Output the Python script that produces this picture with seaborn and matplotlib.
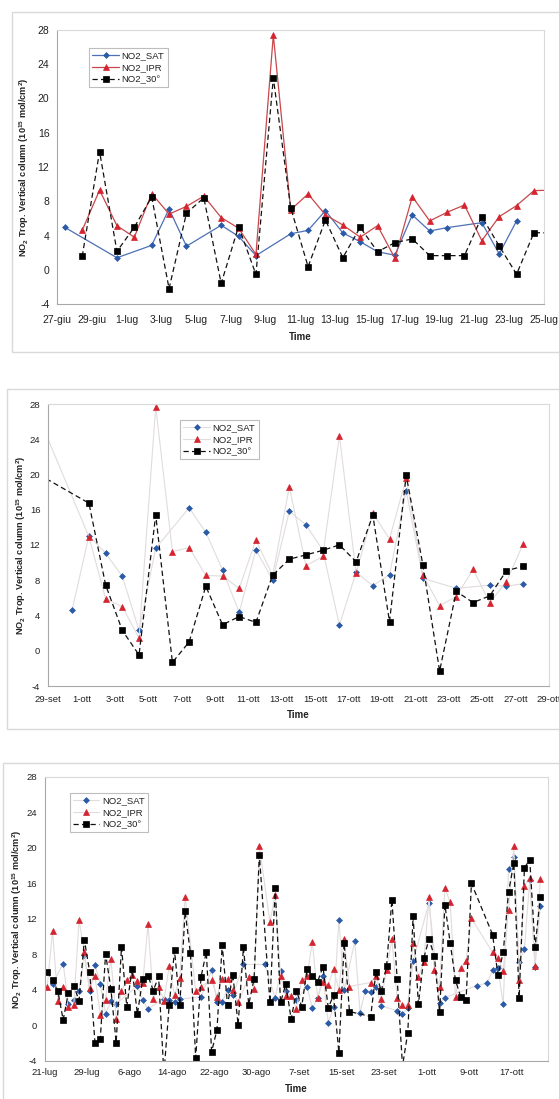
import numpy as np
import matplotlib
matplotlib.use("Agg")
import matplotlib.pyplot as plt
import seaborn as sns
from matplotlib.patches import Rectangle
from matplotlib.ticker import FixedLocator, MultipleLocator

nan = np.nan

# ---------------- Panel 1 : 27-giu .. 25-lug ----------------
p1_days = list(range(0, 29))
p1_ticklabels = ["27-giu", "29-giu", "1-lug", "3-lug", "5-lug", "7-lug", "9-lug", "11-lug",
                 "13-lug", "15-lug", "17-lug", "19-lug", "21-lug", "23-lug", "25-lug"]
p1_sat = [4.95, nan, nan, 1.40, nan, 2.85, 7.10, 2.75, nan, 5.20, 3.90, 1.65, nan, 4.20,
          4.60, 6.90, 4.30, 3.28, 2.10, 1.70, 6.40, 4.53, 4.92, nan, 5.50, 1.85, 5.70, nan, nan]
p1_ipr = [nan, 4.60, 9.30, 5.15, 3.80, 8.90, 6.50, 7.40, 8.60, 6.10, 4.85, 1.80, 27.40, 7.00,
          8.85, 6.40, 5.23, 3.80, 5.15, 1.33, 8.54, 5.70, 6.71, 7.56, 3.40, 6.20, 7.49, 9.24, 9.30]
p1_30 = [nan, 1.55, 13.80, 2.15, 4.96, 8.50, -2.20, 6.60, 8.40, -1.60, 5.05, -0.55, 22.40, 7.25,
         0.36, 5.81, 1.41, 4.96, 2.10, 3.17, 3.60, 1.65, 1.65, 1.65, 6.20, 2.78, -0.53, 4.33, 4.30]

# ---------------- Panel 2 : 29-set .. 29-ott ----------------
p2_days = list(range(-1, 29))
p2_ticklabels = ["29-set", "1-ott", "3-ott", "5-ott", "7-ott", "9-ott", "11-ott", "13-ott",
                 "15-ott", "17-ott", "19-ott", "21-ott", "23-ott", "25-ott", "27-ott", "29-ott"]
p2_sat = [nan, nan, 4.66, 13.05, 11.08, 8.44, 2.31, 11.63, nan, 16.22, 13.43, 9.19, 4.35, 11.46,
          8.02, 15.83, 14.28, 11.42, 2.93, 8.90, 7.38, 8.63, 18.16, 8.21, nan, 7.09, nan, 7.44, 7.32, 7.61]
p2_ipr = [26.5, nan, nan, 12.95, 5.90, 5.00, 1.45, 27.70, 11.25, 11.70, 8.55, 8.47, 7.08, 12.57,
          8.55, 18.60, 9.65, 10.70, 24.40, 8.80, 15.60, 12.68, 19.60, 8.60, 5.12, 6.14, 9.24, 5.46, 7.84, 12.11]
p2_30 = [20.0, nan, nan, 16.75, 7.47, 2.30, -0.47, 15.42, -1.32, 0.99, 7.32, 2.95, 3.88, 3.22,
         8.57, 10.39, 10.88, 11.39, 12.01, 10.10, 15.38, 3.30, 19.90, 9.73, -2.30, 6.74, 5.47, 6.22, 9.08, 9.59]

# ---------------- Panel 3 : 21-lug .. 24-ott ----------------
p3_days = list(range(0, 94))
p3_ticklabels = ["21-lug", "29-lug", "6-ago", "14-ago", "22-ago", "30-ago", "7-set", "15-set",
                 "23-set", "1-ott", "9-ott", "17-ott"]
p3_sat = [nan, 4.65, nan, 6.95, 2.40, 2.80, 3.90, 7.90, 3.80, 6.80,
          4.66, 1.30, 2.70, 2.40, nan, nan, nan, 4.45, 2.80, 1.85,
          nan, nan, 3.00, 2.86, 2.56, 2.93, nan, nan, nan, 3.20,
          nan, 6.17, 2.56, 2.63, 4.02, 3.38, nan, 6.85, nan, nan,
          nan, 6.85, nan, 3.05, 6.10, 3.80, nan, 2.86, nan, 4.32,
          1.92, 3.12, 5.55, 0.30, 2.03, 11.87, 3.97, nan, 9.45, 1.42,
          3.90, 3.76, 4.33, 2.15, nan, nan, 1.65, 1.25, 1.95, 7.20,
          nan, nan, 13.82, nan, 2.53, 3.10, nan, nan, nan, nan,
          nan, 4.47, nan, 4.75, 6.26, 6.45, 2.39, 17.60, 18.90, 7.10,
          8.57, 16.37, 6.55, 13.43]
p3_ipr = [4.30, 10.65, 2.75, 4.30, 2.00, 2.25, 11.85, 8.20, 4.20, 5.55,
          1.20, 2.85, 7.50, 0.75, 3.90, 5.05, 5.70, 5.00, 4.70, 11.40,
          3.00, 4.29, 2.78, 6.62, 3.38, 5.30, 14.44, nan, 3.83, 4.36,
          nan, 5.11, 3.23, 5.26, 5.26, 3.91, 2.56, nan, 5.41, 4.06,
          20.15, nan, 11.65, 14.62, 5.56, 3.31, 3.31, 1.88, 5.04, 5.60,
          9.40, 3.05, 4.89, 4.51, 6.32, 3.98, 9.70, 4.36, nan, nan,
          nan, 4.81, 5.49, 2.93, 6.24, 9.70, 3.05, 2.29, 2.29, 9.25,
          5.41, 7.07, 14.40, 6.24, 4.36, 15.45, 13.83, 3.23, 6.43, 7.29,
          12.03, nan, nan, nan, 8.20, 7.56, 6.13, 13.00, 20.15, 5.11,
          15.71, 16.58, 6.69, 16.47]
p3_30 = [6.02, 5.04, 3.83, 0.60, 3.68, 4.44, 2.78, 9.62, 6.02, -1.95,
         -1.58, 8.05, 4.10, -1.95, 8.80, 2.10, 6.32, 1.24, 5.20, 5.56,
         3.90, 5.49, -5.50, 2.29, 8.42, 2.29, 12.82, 8.12, -3.70, 5.41,
         8.27, -2.97, -0.56, 9.06, 2.29, 5.71, 0.04, 8.76, 2.33, 5.19,
         19.17, nan, 2.56, 15.45, 2.56, 4.62, 0.68, 3.87, 2.10, 6.32,
         5.60, 4.92, 6.58, 1.99, 3.35, -3.08, 9.25, 1.54, nan, nan,
         nan, 0.98, 5.98, 3.80, 6.69, 14.14, 5.19, -4.60, -0.83, 12.26,
         2.37, 7.52, 9.70, 7.82, 1.47, 13.57, 9.25, 5.04, 3.16, 2.86,
         16.00, nan, nan, nan, 10.20, 5.64, 8.20, 15.00, 18.27, 3.08,
         17.74, 18.65, 8.80, 14.47]

SERIES = ["NO2_SAT", "NO2_IPR", "NO2_30°"]

sns.set_style("white")
plt.rcParams["font.family"] = ["Liberation Sans", "DejaVu Sans"]
plt.rcParams["mathtext.default"] = "regular"

TXT = "#222222"
BLUE = "#2B5BA8"
RED = "#D42430"
FAINT = "#E2DCDC"

W, H = 559, 1099
fig = plt.figure(figsize=(W / 100, H / 100), dpi=100)


def fig_box(x0, y0, x1, y1):
    return [x0 / W, 1 - y1 / H, (x1 - x0) / W, (y1 - y0) / H]


def draw_series(ax, xs, ys, lcolor, mcolor, marker, ms, lw, dashed):
    xs = np.asarray(xs, float)
    ys = np.asarray(ys, float)
    m = ~np.isnan(ys)
    sns.lineplot(x=xs[m], y=ys[m], ax=ax, sort=False, estimator=None,
                 color=lcolor, linewidth=lw, marker=marker, markersize=ms,
                 markerfacecolor=mcolor, markeredgecolor=mcolor, markeredgewidth=0.5)
    ln = ax.lines[-1]
    if dashed:
        ln.set_linestyle((0, (4.2, 2.6)))
    return ln


def panel(box, days, sat, ipr, n30, offset, xmax, major, ticklabels, colored_lines,
          fs_tick, xpad, ylab_x, time_y, legend_xy):
    ax = fig.add_axes(fig_box(*box))
    x = np.asarray(days, float) + offset
    if colored_lines:
        l1 = draw_series(ax, x, sat, "#4D70B6", BLUE, "D", 3.0, 0.9, False)
        l2 = draw_series(ax, x, ipr, "#C8474B", RED, "^", 5.0, 0.9, False)
    else:
        l1 = draw_series(ax, x, sat, FAINT, BLUE, "D", 3.0, 0.8, False)
        l2 = draw_series(ax, x, ipr, FAINT, RED, "^", 5.0, 0.8, False)
    l3 = draw_series(ax, x, n30, "#111111", "#000000", "s", 5.0, 0.9, True)

    ax.set_xlim(0, xmax)
    ax.set_ylim(-4, 28)
    ax.yaxis.set_major_locator(FixedLocator(np.arange(-4, 29, 4)))
    ax.set_yticklabels([str(v) for v in range(-4, 29, 4)])
    ax.xaxis.set_major_locator(FixedLocator(np.arange(0, major * len(ticklabels), major)))
    ax.set_xticklabels(ticklabels)
    ax.xaxis.set_minor_locator(MultipleLocator(1))

    for s in ["top", "right"]:
        ax.spines[s].set_color("#d9d9d9")
        ax.spines[s].set_linewidth(0.8)
    ax.spines["left"].set_color("#a8a8a8")
    ax.spines["bottom"].set_color("#a8a8a8")
    ax.spines["left"].set_linewidth(0.8)
    ax.spines["bottom"].set_linewidth(0.8)

    ax.tick_params(axis="x", which="both", direction="in", length=3, width=0.6,
                   color="#9a9a9a", pad=xpad, labelsize=fs_tick, labelcolor=TXT)
    ax.tick_params(axis="y", which="major", direction="out", length=2.5, width=0.6,
                   color="#9a9a9a", pad=3, labelsize=fs_tick, labelcolor=TXT)
    ax.tick_params(axis="x", which="minor", length=2.5)

    ax.set_ylabel("NO$_2$ Trop. Vertical column (10$^{15}$ mol/cm$^2$)",
                  fontsize=6.6, fontweight="bold", color=TXT)
    ax.yaxis.set_label_coords(ylab_x, 0.5)
    ax.yaxis.label.set_va("center")
    ax.set_xlabel("Time", fontsize=7, fontweight="bold", color=TXT)
    ax.xaxis.set_label_coords(0.5, time_y)
    ax.xaxis.label.set_va("center")

    leg = ax.legend(handles=[l1, l2, l3], labels=SERIES, loc="upper left",
                    bbox_to_anchor=(legend_xy[0] / W, 1 - legend_xy[1] / H),
                    bbox_transform=fig.transFigure, fontsize=6.8, frameon=True,
                    fancybox=False, edgecolor="#bdbdbd", framealpha=1,
                    handlelength=2.8, handletextpad=0.3, borderpad=0.35,
                    labelspacing=0.3, borderaxespad=0)
    leg.get_frame().set_linewidth(0.8)
    for t in leg.get_texts():
        t.set_color(TXT)
    return ax


# outer chart-area frames
for (x0, y0, x1, y1) in [(12, 12, 565, 352), (7, 389, 565, 729), (3, 763, 565, 1110)]:
    fig.patches.append(Rectangle((x0 / W, 1 - y1 / H), (x1 - x0) / W, (y1 - y0) / H,
                                 transform=fig.transFigure, fill=False,
                                 edgecolor="#d9d9d9", linewidth=1.0))

panel((57, 30, 543.5, 304), p1_days, p1_sat, p1_ipr, p1_30, 0.45, 28, 2, p1_ticklabels,
      True, 7.5, 8.0, -0.068, -0.12, (89, 48))
panel((48, 404, 549, 686), p2_days, p2_sat, p2_ipr, p2_30, 0.45, 30, 2, p2_ticklabels,
      False, 6.8, 6.5, -0.054, -0.103, (180, 420))
panel((44.6, 776.7, 548.3, 1060.7), p3_days, p3_sat, p3_ipr, p3_30, 0.5, 95, 8, p3_ticklabels,
      False, 6.8, 5.3, -0.055, -0.10, (69.5, 793))

fig.savefig("out.png", dpi=100, facecolor="white")
